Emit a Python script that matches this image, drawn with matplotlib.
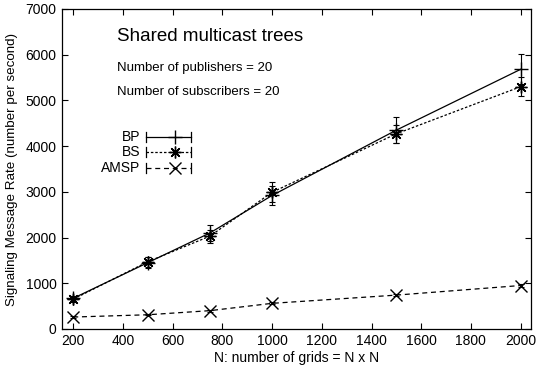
import matplotlib
matplotlib.use("Agg")
import matplotlib.pyplot as plt
from matplotlib.lines import Line2D

plt.rcParams['font.family'] = ['Liberation Sans', 'DejaVu Sans']

grids = [200, 500, 750, 1000, 1500, 2000]
bp = [670, 1450, 2100, 2920, 4350, 5680]
bp_err = [60, 120, 180, 200, 280, 330]
bs = [650, 1470, 2030, 2990, 4270, 5300]
bs_err = [60, 110, 140, 220, 200, 210]
amsp = [260, 310, 400, 560, 740, 950]
amsp_err = [15, 15, 20, 25, 30, 30]

series_names = ["BP", "BS", "AMSP"]
xticks = [200, 400, 600, 800, 1000, 1200, 1400, 1600, 1800, 2000]
yticks = [0, 1000, 2000, 3000, 4000, 5000, 6000, 7000]

fig = plt.figure(figsize=(5.37, 3.70), dpi=100)
ax = fig.add_axes([0.1155, 0.111, 0.8735, 0.8647])

styles = [
    dict(marker='+', ms=10, dashes=None),
    dict(marker=(8, 2, 0), ms=8.5, dashes=(2, 1.5)),
    dict(marker='x', ms=8, dashes=(4, 3)),
]
data = [(bp, bp_err), (bs, bs_err), (amsp, amsp_err)]

for (y, e), st in zip(data, styles):
    line, = ax.plot(grids, y, color='black', lw=0.9, marker=st['marker'],
                    ms=st['ms'], mew=1.0, ls='-')
    if st['dashes'] is not None:
        line.set_dashes(st['dashes'])
    ax.errorbar(grids, y, yerr=e, fmt='none', ecolor='black', elinewidth=0.8,
                capsize=2, capthick=0.8, ls=':')

ax.set_xlim(155, 2042)
ax.set_ylim(0, 7000)
ax.set_xticks(xticks)
ax.set_yticks(yticks)
ax.tick_params(direction='in', top=True, right=True, length=4, width=0.8,
               labelsize=10, pad=4)
for s in ax.spines.values():
    s.set_linewidth(0.9)

ax.set_xlabel("N: number of grids = N x N", fontsize=10, labelpad=2)
ax.set_ylabel("Signaling Message Rate (number per second)", fontsize=9.6, labelpad=5)

ax.text(0.117, 0.915, "Shared multicast trees", transform=ax.transAxes,
        fontsize=13.5, va='center', ha='left')
ax.text(0.117, 0.815, "Number of publishers = 20", transform=ax.transAxes,
        fontsize=9.5, va='center', ha='left')
ax.text(0.117, 0.74, "Number of subscribers = 20", transform=ax.transAxes,
        fontsize=9.5, va='center', ha='left')

# gnuplot-style legend
leg_rows = [0.6, 0.553, 0.503]
x0, x1, xm, xl = 0.178, 0.275, 0.241, 0.166
for name, st, yr in zip(series_names, styles, leg_rows):
    ax.text(xl, yr, name, transform=ax.transAxes, fontsize=10,
            ha='right', va='center')
    ln = Line2D([x0, x1], [yr, yr], transform=ax.transAxes, color='black', lw=0.9)
    if st['dashes'] is not None:
        ln.set_dashes(st['dashes'])
    ax.add_line(ln)
    for xc in (x0, x1):
        ax.add_line(Line2D([xc, xc], [yr - 0.017, yr + 0.017], transform=ax.transAxes,
                           color='black', lw=0.9))
    ax.add_line(Line2D([xm], [yr], transform=ax.transAxes, color='black',
                       marker=st['marker'], ms=st['ms'], mew=1.0, ls='none'))

fig.savefig("out.png", dpi=100)
